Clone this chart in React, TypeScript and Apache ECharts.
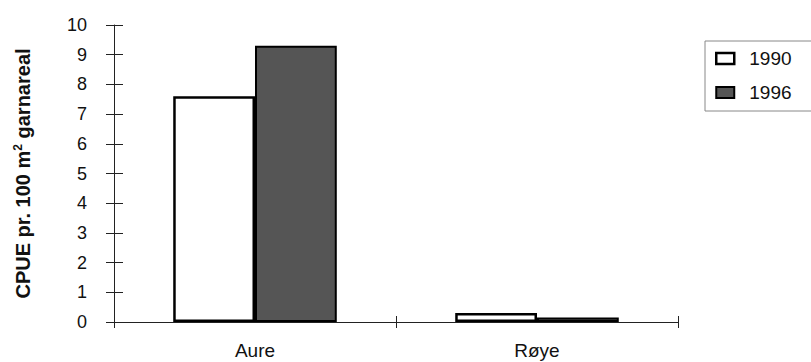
import React, { useEffect, useRef } from "react";
import * as echarts from "echarts";

const categories = ["Aure", "Røye"];
const seriesNames = ["1990", "1996"];
const values1990 = [7.6, 0.3];
const values1996 = [9.3, 0.15];
const yTicks = [0, 10, 1]; // min, max, interval

export default function App() {
  const ref = useRef<HTMLDivElement>(null);
  useEffect(() => {
    if (!ref.current) return;
    const chart = echarts.init(ref.current, null, { renderer: "svg" });
    const font = "'Liberation Sans', Arial, sans-serif";
    const common = {
      type: "value",
      min: yTicks[0],
      max: yTicks[1],
      interval: yTicks[2],
      splitLine: { show: false },
    };
    chart.setOption({
      animation: false,
      backgroundColor: "#fff",
      grid: { left: 114, right: 133, top: 25, bottom: 40 },
      legend: {
        orient: "vertical",
        left: 705,
        top: 41,
        padding: [8, 50, 9, 10],
        itemGap: 15,
        itemWidth: 18,
        itemHeight: 11,
        borderColor: "#888",
        borderWidth: 1,
        textStyle: { fontFamily: font, fontSize: 19, color: "#111", padding: [0, 0, 0, 10] },
        data: [
          { name: seriesNames[0], icon: "rect", itemStyle: { color: "#fff", borderColor: "#000", borderWidth: 2.5 } },
          { name: seriesNames[1], icon: "rect", itemStyle: { color: "#555", borderColor: "#000", borderWidth: 2 } },
        ],
      },
      xAxis: [
        {
          type: "category",
          data: categories,
          axisLine: { lineStyle: { color: "#222", width: 1 } },
          axisTick: { show: true, length: 6, lineStyle: { color: "#222" } },
          axisLabel: { fontFamily: font, fontSize: 19, color: "#111", margin: 19 },
        },
        {
          type: "category",
          data: categories,
          position: "bottom",
          axisLine: { show: false },
          axisTick: { show: true, inside: true, length: 6, lineStyle: { color: "#222" } },
          axisLabel: { show: false },
        },
      ],
      yAxis: [
        {
          ...common,
          axisLine: { show: true, lineStyle: { color: "#222", width: 1 } },
          axisTick: { show: true, length: 8, lineStyle: { color: "#222" } },
          axisLabel: { fontFamily: font, fontSize: 18, color: "#111", margin: 27 },
          name: "{a|CPUE pr. 100 m}{s|2}{a| garnareal}",
          nameLocation: "middle",
          nameRotate: 90,
          nameGap: 80,
          nameTextStyle: {
            rich: {
              a: { fontFamily: font, fontSize: 20, fontWeight: "bold", color: "#111" },
              s: { fontFamily: font, fontSize: 12, fontWeight: "bold", color: "#111", padding: [0, 0, 10, 0] },
            },
          },
        },
        {
          ...common,
          position: "left",
          axisLine: { show: false },
          axisTick: { show: true, inside: true, length: 9, lineStyle: { color: "#222" } },
          axisLabel: { show: false },
        },
      ],
      series: [
        {
          name: seriesNames[0],
          type: "bar",
          data: values1990,
          barWidth: "29%",
          barGap: "0%",
          itemStyle: { color: "#fff", borderColor: "#000", borderWidth: 2.5 },
        },
        {
          name: seriesNames[1],
          type: "bar",
          data: values1996,
          barWidth: "29%",
          barGap: "0%",
          itemStyle: { color: "#555", borderColor: "#000", borderWidth: 2 },
        },
      ],
    });
    return () => chart.dispose();
  }, []);
  return <div ref={ref} style={{ position: "fixed", left: 0, top: 0, width: 811, height: 362 }} />;
}
